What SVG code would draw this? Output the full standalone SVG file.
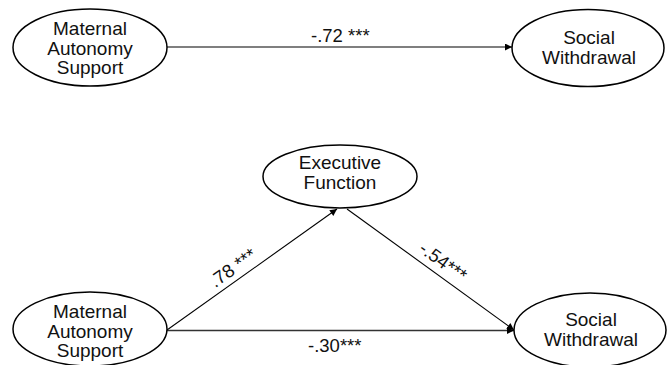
<svg xmlns="http://www.w3.org/2000/svg" width="670" height="365" viewBox="0 0 670 365">
<defs>
<style>
.node ellipse{fill:#fff;stroke:#000;stroke-width:1.5}
.node text{font-family:"Liberation Sans",Arial,sans-serif;font-size:19px;fill:#111;text-anchor:middle}
.lbl{font-family:"Liberation Sans",Arial,sans-serif;font-size:18.5px;fill:#111}
.edge{stroke:#000;stroke-width:1.1;fill:none;marker-end:url(#ah)}
</style>
<marker id="ah" viewBox="0 0 10 10" refX="10" refY="5" markerWidth="8" markerHeight="7" markerUnits="userSpaceOnUse" orient="auto">
<path d="M0,0 L10,5 L0,10 z" fill="#000"/>
</marker>
</defs>
<rect width="670" height="365" fill="#fff"/>
<g id="connectors">
<line class="edge" x1="166" y1="47" x2="512" y2="47"/>
<line class="edge" x1="167" y1="330" x2="337" y2="209"/>
<line class="edge" x1="347" y1="209" x2="514" y2="330"/>
<line class="edge" x1="167" y1="330.5" x2="514" y2="330.5" style="stroke-width:1.5;stroke:#333"/>
<text class="lbl" x="311" y="42">-.72 ***</text>
<text class="lbl" text-anchor="middle" transform="translate(233,268) rotate(-35.6)" y="6">.78 ***</text>
<text class="lbl" text-anchor="middle" transform="translate(443,262) rotate(36.1)" y="6">-.54***</text>
<text class="lbl" x="308" y="352">-.30***</text>
</g>
<g id="mas1" class="node">
<ellipse cx="90" cy="47.5" rx="77" ry="38.5"/>
<text x="90" y="35">Maternal</text>
<text x="90" y="54.5">Autonomy</text>
<text x="90" y="74">Support</text>
</g>
<g id="sw1" class="node">
<ellipse cx="588" cy="48" rx="76" ry="38.5"/>
<text x="589" y="44">Social</text>
<text x="589" y="63.5">Withdrawal</text>
</g>
<g id="ef" class="node">
<ellipse cx="340" cy="176.5" rx="77" ry="31.5"/>
<text x="340" y="169">Executive</text>
<text x="340" y="188.5">Function</text>
</g>
<g id="mas2" class="node">
<ellipse cx="90" cy="329" rx="77" ry="37"/>
<text x="90" y="318">Maternal</text>
<text x="90" y="337.5">Autonomy</text>
<text x="90" y="357">Support</text>
</g>
<g id="sw2" class="node">
<ellipse cx="590" cy="330" rx="76" ry="37"/>
<text x="591" y="326">Social</text>
<text x="591" y="345.5">Withdrawal</text>
</g>
</svg>
